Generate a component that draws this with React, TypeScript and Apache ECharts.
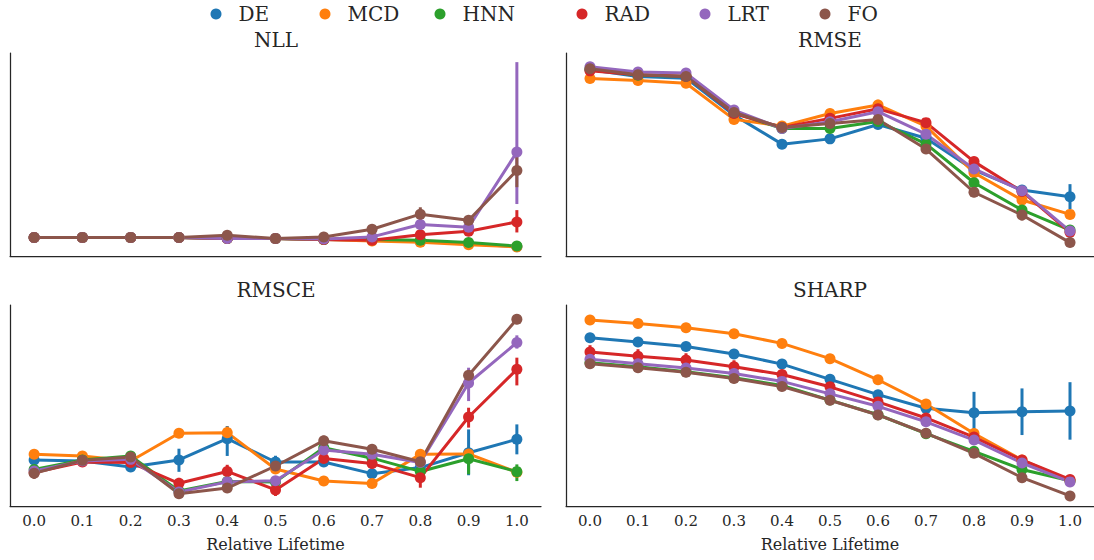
import React, { useEffect, useRef } from "react";
import * as echarts from "echarts";

// ---- data (values are relative heights, 0..100 of each panel's y-range; no y ticks in source) ----
const CATEGORIES = ["0.0", "0.1", "0.2", "0.3", "0.4", "0.5", "0.6", "0.7", "0.8", "0.9", "1.0"];
const METHODS = ["DE", "MCD", "HNN", "RAD", "LRT", "FO"];
const COLORS = ["#1f77b4", "#ff7f0e", "#2ca02c", "#d62728", "#9467bd", "#8c564b"];
const X_NAME = "Relative Lifetime";

// rows: DE, MCD, HNN, RAD, LRT, FO
const NLL_VALUES = [
  [9.1, 9.1, 9.1, 9.1, 8.6, 8.6, 8.1, 7.8, 7.1, 6.0, 4.6],
  [9.1, 9.1, 9.1, 9.1, 8.6, 8.6, 8.1, 7.4, 6.8, 5.6, 4.5],
  [9.1, 9.1, 9.1, 9.1, 8.6, 8.6, 8.1, 8.1, 7.8, 6.6, 4.9],
  [9.1, 9.1, 9.1, 9.1, 8.6, 8.6, 8.1, 7.8, 10.5, 12.2, 16.8],
  [9.1, 9.1, 9.1, 9.1, 8.6, 8.6, 8.4, 9.4, 15.5, 14.2, 51.2],
  [9.1, 9.1, 9.1, 9.1, 10.2, 8.6, 9.4, 13.2, 20.6, 17.6, 42.1],
];
// [method, x index, low, high]
const NLL_ERRORS: [string, number, number, number][] = [
  ["RAD", 8, 8.5, 12.5],
  ["RAD", 9, 10, 14.5],
  ["RAD", 10, 11.6, 22.6],
  ["LRT", 8, 12, 19],
  ["LRT", 9, 12.5, 16],
  ["LRT", 10, 25.6, 95.5],
  ["FO", 7, 11.5, 15],
  ["FO", 8, 18, 24],
  ["FO", 9, 16, 19],
  ["FO", 10, 33.9, 50.4],
];

const RMSE_VALUES = [
  [91.7, 88.4, 87.6, 69.4, 55.1, 57.7, 64.8, 58.0, 42.4, 32.5, 29.2],
  [87.4, 86.4, 85.1, 67.3, 64.0, 70.2, 74.4, 64.0, 41.0, 27.6, 20.5],
  [92.0, 89.0, 88.6, 70.5, 62.8, 62.8, 66.3, 55.2, 36.1, 22.7, 12.8],
  [91.2, 89.3, 88.6, 70.2, 63.3, 67.8, 72.5, 65.7, 46.5, 31.8, 11.7],
  [93.2, 90.6, 90.1, 71.9, 62.8, 66.1, 71.1, 60.0, 42.9, 32.2, 12.3],
  [92.2, 89.3, 88.4, 70.7, 63.3, 65.3, 67.2, 52.7, 31.4, 20.2, 6.6],
];
const RMSE_ERRORS: [string, number, number, number][] = [
  ["DE", 9, 30.5, 34.5],
  ["DE", 10, 23, 35.4],
  ["MCD", 5, 69, 72],
  ["MCD", 6, 72.5, 77],
  ["MCD", 10, 19, 22],
  ["HNN", 9, 21, 24.5],
  ["RAD", 7, 64, 67.5],
  ["LRT", 10, 9, 15],
  ["FO", 8, 29, 33.5],
  ["FO", 9, 17.5, 23],
];

const RMSCE_VALUES = [
  [22.9, 22.4, 19.4, 22.9, 33.5, 21.9, 21.9, 16.1, 19.1, 26.5, 33.2],
  [25.7, 24.9, 22.4, 36.2, 36.5, 18.4, 12.4, 11.2, 25.7, 25.9, 16.8],
  [18.2, 22.9, 24.9, 7.5, 12.2, 12.0, 29.0, 23.8, 17.2, 23.5, 17.1],
  [16.6, 21.9, 21.6, 11.3, 17.2, 8.0, 23.6, 21.1, 14.1, 44.3, 68.0],
  [17.4, 22.4, 23.2, 7.0, 12.0, 12.6, 27.9, 25.7, 21.6, 61.2, 81.3],
  [16.3, 22.7, 24.4, 6.1, 8.9, 19.9, 32.5, 28.2, 22.0, 65.0, 92.9],
];
const RMSCE_ERRORS: [string, number, number, number][] = [
  ["DE", 3, 17, 28.5],
  ["DE", 4, 24.9, 39.8],
  ["DE", 5, 18.5, 25],
  ["DE", 6, 19.5, 24.5],
  ["DE", 9, 15.3, 38.1],
  ["DE", 10, 25.7, 40.6],
  ["MCD", 4, 33.5, 39.5],
  ["HNN", 9, 15.8, 29.0],
  ["HNN", 10, 12.4, 20.7],
  ["RAD", 3, 8.5, 14],
  ["RAD", 4, 13.8, 20.5],
  ["RAD", 5, 5, 11],
  ["RAD", 6, 21, 26],
  ["RAD", 7, 18.5, 24],
  ["RAD", 8, 9.1, 18.2],
  ["RAD", 9, 39.0, 48.9],
  ["RAD", 10, 60.0, 73.8],
  ["LRT", 9, 52.2, 68.8],
  ["LRT", 10, 78.3, 84.9],
  ["FO", 0, 13.5, 19],
  ["FO", 6, 30, 35],
  ["FO", 7, 26, 30.5],
  ["FO", 8, 19.5, 25],
  ["FO", 9, 62.5, 67.5],
  ["FO", 10, 90.5, 95.5],
];

const SHARP_VALUES = [
  [83.7, 81.6, 79.4, 75.6, 70.6, 63.0, 55.4, 48.6, 46.4, 46.9, 47.3],
  [92.5, 90.8, 88.7, 85.7, 80.9, 73.3, 62.8, 50.7, 36.1, 22.9, 12.5],
  [71.3, 69.3, 66.8, 63.8, 60.0, 52.7, 45.4, 36.0, 27.2, 18.2, 12.6],
  [76.6, 74.5, 72.6, 69.3, 65.4, 59.3, 51.8, 43.8, 34.3, 22.9, 13.2],
  [73.0, 70.8, 68.7, 65.9, 62.0, 55.8, 49.6, 41.9, 32.8, 21.4, 12.0],
  [70.8, 68.8, 66.5, 63.4, 59.4, 52.6, 45.3, 36.2, 26.2, 14.1, 5.0],
];
const SHARP_ERRORS: [string, number, number, number][] = [
  ["DE", 0, 81.5, 86],
  ["DE", 1, 79.5, 83.5],
  ["DE", 8, 36, 56.8],
  ["DE", 9, 35.3, 58.5],
  ["DE", 10, 33, 61.6],
  ["MCD", 0, 90.5, 94.5],
  ["MCD", 1, 89, 92.5],
  ["MCD", 2, 86.5, 90.5],
  ["MCD", 3, 83.7, 87.5],
  ["MCD", 4, 79, 83],
  ["MCD", 5, 71.5, 75],
  ["HNN", 10, 10, 15],
  ["RAD", 0, 73, 80],
  ["RAD", 1, 70.5, 78],
  ["RAD", 2, 69, 76],
  ["RAD", 3, 66, 72.5],
  ["RAD", 9, 21, 25],
  ["LRT", 10, 9.5, 14.5],
  ["FO", 8, 24, 29],
  ["FO", 9, 12, 16],
];

// ---- layout / style ----
const FONT = "DejaVu Serif";
const TEXT_COLOR = "#262626";
const AXIS_COLOR = "#262626";

const PANELS = [
  { title: "NLL", values: NLL_VALUES, errors: NLL_ERRORS, left: 10, top: 53, height: 203, titleX: 276, titleY: 40, labels: false },
  { title: "RMSE", values: RMSE_VALUES, errors: RMSE_ERRORS, left: 566, top: 53, height: 203, titleX: 830, titleY: 40, labels: false },
  { title: "RMSCE", values: RMSCE_VALUES, errors: RMSCE_ERRORS, left: 10, top: 305, height: 201, titleX: 276, titleY: 290, labels: true },
  { title: "SHARP", values: SHARP_VALUES, errors: SHARP_ERRORS, left: 566, top: 305, height: 201, titleX: 830, titleY: 290, labels: true },
];
const PANEL_WIDTH = 531;
const LEGEND_DOT_X = [216, 325, 440, 582, 705, 825];

export default function App() {
  const ref = useRef<HTMLDivElement>(null);

  useEffect(() => {
    if (!ref.current) return;
    const chart = echarts.init(ref.current, null, { renderer: "svg" });

    const grid: any[] = [];
    const xAxis: any[] = [];
    const yAxis: any[] = [];
    const series: any[] = [];
    const graphic: any[] = [];

    PANELS.forEach((p, pi) => {
      grid.push({ left: p.left, top: p.top, width: PANEL_WIDTH, height: p.height, containLabel: false });
      xAxis.push({
        type: "category",
        gridIndex: pi,
        data: CATEGORIES,
        boundaryGap: true,
        axisLine: { show: true, lineStyle: { color: AXIS_COLOR, width: 1.25 } },
        axisTick: { show: false },
        splitLine: { show: false },
        axisLabel: {
          show: p.labels,
          margin: 7,
          fontFamily: FONT,
          fontSize: 15,
          color: TEXT_COLOR,
        },
        name: p.labels ? X_NAME : "",
        nameLocation: "middle",
        nameGap: 30,
        nameTextStyle: { fontFamily: FONT, fontSize: 16, color: TEXT_COLOR },
      });
      yAxis.push({
        type: "value",
        gridIndex: pi,
        min: 0,
        max: 100,
        axisLine: { show: true, lineStyle: { color: AXIS_COLOR, width: 1.25 } },
        axisTick: { show: false },
        axisLabel: { show: false },
        splitLine: { show: false },
      });
      graphic.push({
        type: "text",
        x: p.titleX,
        y: p.titleY,
        style: {
          text: p.title,
          align: "center",
          verticalAlign: "middle",
          fontFamily: FONT,
          fontSize: 20,
          fill: TEXT_COLOR,
        },
      });

      METHODS.forEach((m, mi) => {
        series.push({
          name: m,
          type: "line",
          xAxisIndex: pi,
          yAxisIndex: pi,
          data: p.values[mi],
          symbol: "circle",
          symbolSize: 11,
          showSymbol: true,
          color: COLORS[mi],
          lineStyle: { width: 3, color: COLORS[mi] },
          itemStyle: { color: COLORS[mi] },
          emphasis: { disabled: true },
          silent: true,
          z: 2,
        });
        const errs = p.errors.filter((e) => e[0] === m).map((e) => [e[1], e[2], e[3]]);
        if (errs.length) {
          const color = COLORS[mi];
          series.push({
            type: "custom",
            xAxisIndex: pi,
            yAxisIndex: pi,
            data: errs,
            encode: { x: 0, y: [1, 2] },
            silent: true,
            z: 2,
            renderItem: (params: any, api: any) => {
              const x = api.value(0);
              const a = api.coord([x, api.value(1)]);
              const b = api.coord([x, api.value(2)]);
              return {
                type: "line",
                shape: { x1: a[0], y1: a[1], x2: b[0], y2: b[1] },
                style: { stroke: color, lineWidth: 3 },
              };
            },
          });
        }
      });
    });

    const legend = METHODS.map((m, mi) => ({
      data: [m],
      left: LEGEND_DOT_X[mi] - 5.5,
      top: 4,
      padding: 0,
      icon: "circle",
      itemWidth: 11,
      itemHeight: 11,
      itemGap: 0,
      selectedMode: false,
      textStyle: { fontFamily: FONT, fontSize: 20, color: TEXT_COLOR, padding: [0, 0, 0, 12] },
    }));

    chart.setOption({
      animation: false,
      backgroundColor: "#ffffff",
      grid,
      xAxis,
      yAxis,
      series,
      legend,
      graphic,
    });

    return () => chart.dispose();
  }, []);

  return (
    <div
      ref={ref}
      style={{ position: "absolute", left: 0, top: 0, width: 1094, height: 560, background: "#fff" }}
    />
  );
}
